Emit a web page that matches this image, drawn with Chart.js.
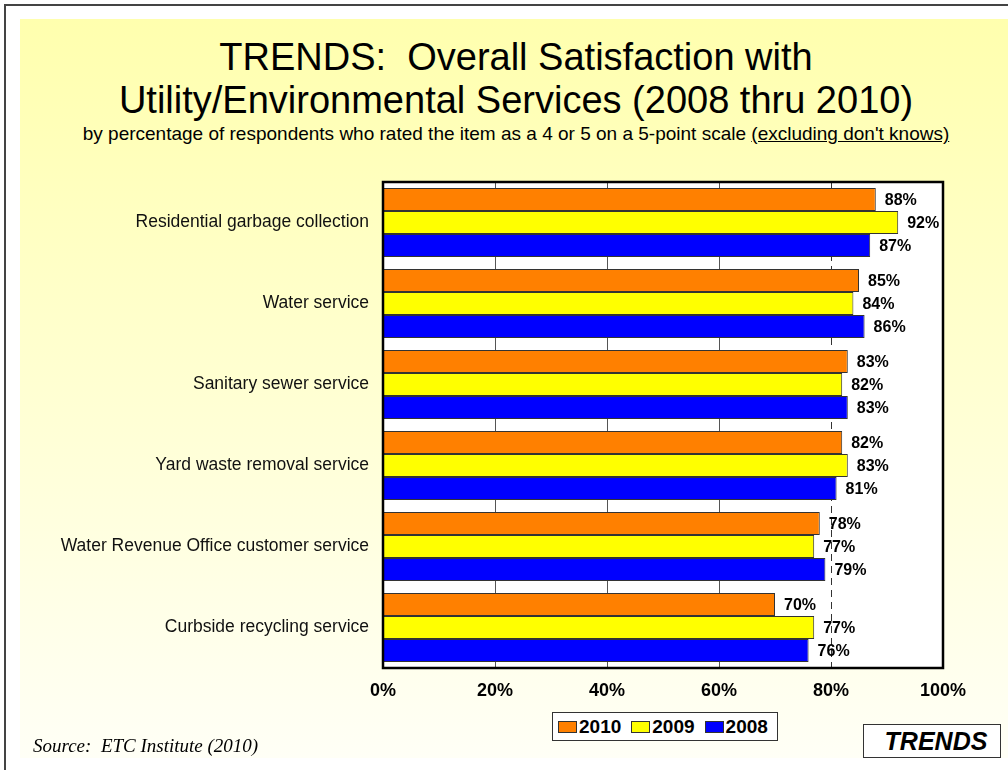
<!DOCTYPE html>
<html>
<head>
<meta charset="utf-8">
<script src="https://cdn.jsdelivr.net/npm/chart.js@4"></script>
<style>
  html, body { margin: 0; padding: 0; background: #fff; }
  #page { position: relative; width: 1008px; height: 770px; overflow: hidden; font-family: "Liberation Sans", Arial, sans-serif; }
  #frame { position: absolute; left: 4px; top: 4px; width: 1100px; height: 1100px; border-top: 2px solid #444; border-left: 2px solid #444; }
  #panel { position: absolute; left: 20px; top: 19px; width: 1100px; height: 739px; background: linear-gradient(#ffffae, #fffff6); }
  #chart { position: absolute; left: 0; top: 0; }
  .title { position: absolute; left: 0; width: 1032px; text-align: center; color: #000; }
  #t1 { top: 36px; font-size: 38px; line-height: 43px; }
  #t2 { top: 124px; font-size: 19px; line-height: 20px; }
  #t2 u { text-decoration: underline; }
  #legend { position: absolute; left: 552px; top: 712px; width: 219px; height: 27px; border: 1px solid #333; background: #fff; display: flex; align-items: center; padding-left: 5px; box-sizing: content-box; }
  .item { display: flex; align-items: center; margin-right: 10px; font-weight: bold; font-size: 19px; }
  .swatch { width: 17px; height: 10px; border: 1px solid #333; margin-right: 2px; }
  #source { position: absolute; left: 33px; top: 736px; font-family: "Liberation Serif", "Times New Roman", serif; font-style: italic; font-size: 19px; line-height: 19px; }
  #badge { position: absolute; left: 863px; top: 724px; width: 138px; height: 34px; border: 1px solid #333; background: #fff; display: flex; align-items: center; justify-content: center; font-weight: bold; font-style: italic; font-size: 25px; padding-left: 8px; box-sizing: border-box; }
</style>
</head>
<body>
<div id="page">
  <div id="frame"></div>
  <div id="panel"></div>
  <div class="title" id="t1">TRENDS:&nbsp; Overall Satisfaction with<br>Utility/Environmental Services (2008 thru 2010)</div>
  <div class="title" id="t2">by percentage of respondents who rated the item as a 4 or 5 on a 5-point scale <u>(excluding don't knows)</u></div>
  <canvas id="chart" width="1008" height="770"></canvas>
  <div id="legend"></div>
  <div id="source">Source:&nbsp; ETC Institute (2010)</div>
  <div id="badge">TRENDS</div>
</div>
<script>
const categories = [
  'Residential garbage collection',
  'Water service',
  'Sanitary sewer service',
  'Yard waste removal service',
  'Water Revenue Office customer service',
  'Curbside recycling service'
];
const years = ['2010', '2009', '2008'];
const colors = ['#ff8000', '#ffff00', '#0000ff'];
const values2010 = [88, 85, 83, 82, 78, 70];
const values2009 = [92, 84, 82, 83, 77, 77];
const values2008 = [87, 86, 83, 81, 79, 76];
const xTicks = [0, 20, 40, 60, 80, 100];

const series = [values2010, values2009, values2008];

// white plot background, dashed 80% line, and black frame
const plotFrame = {
  id: 'plotFrame',
  beforeDraw(chart) {
    const { ctx, chartArea: a } = chart;
    ctx.save();
    ctx.fillStyle = '#fff';
    ctx.fillRect(a.left, a.top, a.width, a.height);
    ctx.restore();
  },
  beforeDatasetsDraw(chart) {
    const { ctx, chartArea: a } = chart;
    const x = Math.round(chart.scales.x.getPixelForValue(80)) + 0.5;
    ctx.save();
    ctx.strokeStyle = '#333';
    ctx.lineWidth = 1;
    ctx.setLineDash([7, 5]);
    ctx.beginPath();
    ctx.moveTo(x, a.top);
    ctx.lineTo(x, a.bottom);
    ctx.stroke();
    ctx.restore();
  },
  afterDraw(chart) {
    const { ctx, chartArea: a } = chart;
    ctx.save();
    ctx.strokeStyle = '#000';
    ctx.lineWidth = 2.5;
    ctx.strokeRect(a.left, a.top, a.width, a.height);
    ctx.restore();
  }
};

// percent labels at the end of each bar
const barLabels = {
  id: 'barLabels',
  afterDatasetsDraw(chart) {
    const { ctx } = chart;
    ctx.save();
    ctx.font = 'bold 16px "Liberation Sans", Arial, sans-serif';
    ctx.fillStyle = '#000';
    ctx.textAlign = 'left';
    ctx.textBaseline = 'middle';
    chart.data.datasets.forEach((ds, i) => {
      chart.getDatasetMeta(i).data.forEach((bar, j) => {
        ctx.fillText(ds.data[j] + '%', bar.x + 9, bar.y + 1);
      });
    });
    ctx.restore();
  }
};

new Chart(document.getElementById('chart'), {
  type: 'bar',
  data: {
    labels: categories,
    datasets: years.map((y, i) => ({
      label: y,
      data: series[i],
      backgroundColor: colors[i],
      borderColor: '#333',
      borderWidth: 1,
      borderSkipped: 'start',
      categoryPercentage: 0.85,
      barPercentage: 1
    }))
  },
  options: {
    indexAxis: 'y',
    responsive: false,
    animation: false,
    layout: { padding: { top: 182, right: 65, left: 0, bottom: 0 } },
    plugins: {
      legend: { display: false },
      tooltip: { enabled: false }
    },
    scales: {
      x: {
        min: 0,
        max: 100,
        afterBuildTicks(scale) { scale.ticks = xTicks.map(v => ({ value: v })); },
        afterFit(scale) { scale.height = 102; },
        border: { display: false },
        grid: {
          drawTicks: false,
          lineWidth: 1,
          color: c => (c.tick && [20, 40, 60].includes(c.tick.value)) ? '#555' : 'rgba(0,0,0,0)'
        },
        ticks: {
          padding: 12,
          color: '#000',
          font: { family: '"Liberation Sans", Arial, sans-serif', size: 18, weight: 'bold' },
          callback: v => v + '%'
        }
      },
      y: {
        afterFit(scale) { scale.width = 383; },
        border: { display: false },
        grid: { display: false, drawTicks: false },
        ticks: {
          padding: 14,
          color: '#111',
          font: { family: '"Liberation Sans", Arial, sans-serif', size: 17.5 }
        }
      }
    }
  },
  plugins: [plotFrame, barLabels]
});

// legend built from the series names and colours
const legend = document.getElementById('legend');
years.forEach((y, i) => {
  const item = document.createElement('div');
  item.className = 'item';
  const sw = document.createElement('span');
  sw.className = 'swatch';
  sw.style.background = colors[i];
  item.appendChild(sw);
  item.appendChild(document.createTextNode(y));
  legend.appendChild(item);
});
</script>
</body>
</html>
